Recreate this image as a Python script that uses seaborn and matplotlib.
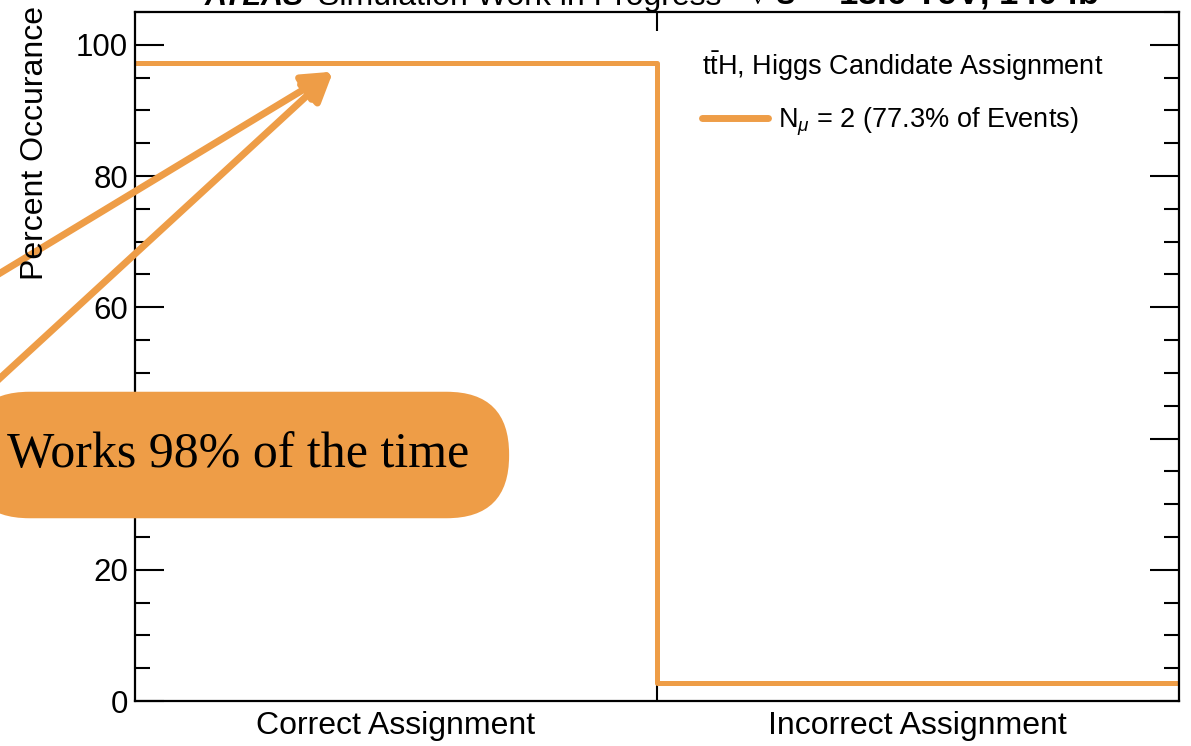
import numpy as np
import pandas as pd
import matplotlib
matplotlib.use("Agg")
import matplotlib.pyplot as plt
import seaborn as sns

# Data
categories = ["Correct Assignment", "Incorrect Assignment"]
percent = [97.2, 2.8]
bin_edges = [0, 1, 2]
series_label = r"N$_{\mu}$ = 2 (77.3% of Events)"
legend_title = r"$\mathrm{t\bar{t}H}$, Higgs Candidate Assignment"

orange = "#EE9D47"

sns.set_style("ticks")
plt.rcParams["font.family"] = ["Liberation Sans", "DejaVu Sans"]
plt.rcParams["mathtext.fontset"] = "custom"
plt.rcParams["mathtext.rm"] = "Liberation Sans"
plt.rcParams["mathtext.it"] = "Liberation Sans:italic"
plt.rcParams["mathtext.sf"] = "Liberation Sans"
plt.rcParams["mathtext.bf"] = "Liberation Sans:bold"
for k in ["text.color", "axes.labelcolor", "xtick.color", "ytick.color", "axes.edgecolor"]:
    plt.rcParams[k] = "black"

df = pd.DataFrame({"bin": [0.5, 1.5], "percent": percent})

fig = plt.figure(figsize=(11.91, 7.46), dpi=100)
ax = fig.add_axes([0.1134, 0.0603, 0.8762, 0.9237])

sns.histplot(data=df, x="bin", weights="percent", bins=bin_edges,
             element="step", fill=False, color=orange, linewidth=3.6,
             label=series_label, ax=ax)

ax.set_xlim(0, 2)
ax.set_ylim(0, 105)
ax.set_xlabel("")
ax.set_ylabel("")

# y axis ticks (ROOT style: inside, both sides)
ax.set_yticks(np.arange(0, 101, 20))
ax.set_yticks(np.arange(0, 106, 5), minor=True)
ax.tick_params(axis="y", which="both", direction="in", left=True, right=True,
               labelsize=22.5, width=1.5, pad=5)
ax.tick_params(axis="y", which="major", length=21)
ax.tick_params(axis="y", which="minor", length=11)

# x axis: bin boundary tick, labels at bin centres
ax.set_xticks([1])
ax.set_xticklabels([""])
ax.set_xticks([0.5, 1.5], minor=True)
ax.set_xticklabels(categories, minor=True)
ax.tick_params(axis="x", which="major", direction="in", top=True, bottom=True,
               length=14, width=1.5)
ax.tick_params(axis="x", which="minor", length=0, labelsize=23, pad=7)

for s in ax.spines.values():
    s.set_linewidth(1.6)
    s.set_visible(True)

leg = ax.legend(title=legend_title, loc="upper left",
                bbox_to_anchor=(0.543, 0.945), frameon=False,
                fontsize=19.5, title_fontsize=19.5, handlelength=2.45,
                handletextpad=0.37, borderpad=0, borderaxespad=0,
                alignment="left")
leg.get_lines()[0].set_linewidth(5)
leg._legend_box.sep = 16

# y label, sticking out over the top like the original
fig.text(0.029, 1 - 280 / 746, "Percent Occurance", rotation=90,
         ha="center", va="bottom", fontsize=23)

# ATLAS header, mostly cut off at the top edge
fig.text(205 / 1191, 1 - 5 / 746, "ATLAS", fontsize=22, fontweight="bold",
         fontstyle="italic", va="baseline")
fig.text(318 / 1191, 1 - 5 / 746, "Simulation Work in Progress", fontsize=23,
         va="baseline")
fig.text(746 / 1191, 1 - 5 / 746, r"$\mathbf{\sqrt{s}}$ = 13.6 TeV, 140 fb$^{\mathbf{-1}}$",
         fontsize=25, fontweight="bold", va="baseline")

# annotation box and arrows
tip = (0.3795, 95.9)
for tail in [(-0.04, 1 - 302 / 746), (-0.04, 1 - 422 / 746)]:
    ax.annotate("", xy=tip, xycoords="data", xytext=tail,
                textcoords="figure fraction", annotation_clip=False,
                arrowprops=dict(arrowstyle="-|>,head_length=0.9,head_width=0.45",
                                color=orange, lw=5, shrinkA=0, shrinkB=0,
                                mutation_scale=20))

fig.text(238 / 1191, 1 - 455 / 746, "Works 98% of the time", fontsize=36,
         family=["Liberation Serif", "DejaVu Serif"], ha="center", va="center",
         bbox=dict(boxstyle="round,pad=0.8,rounding_size=1.25",
                   fc=orange, ec="none"))

fig.savefig("out.png", dpi=100)
